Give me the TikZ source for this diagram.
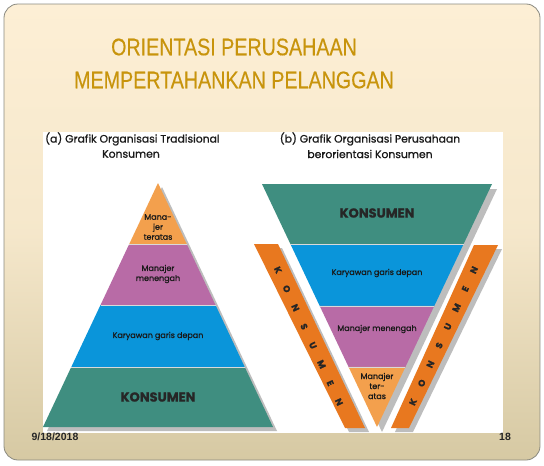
\documentclass[tikz,border=0pt]{standalone}
\usepackage{fontspec}
\setmainfont{Liberation Sans}
\newfontfamily\gothic[FakeBold=0.9]{Poppins}
\newfontfamily\titlefont[FakeBold=0.4]{Liberation Sans}
\usetikzlibrary{calc}
\definecolor{creamtop}{HTML}{FDEFD5}
\definecolor{tanbot}{HTML}{D6C9A3}
\definecolor{framegray}{HTML}{8A8A80}
\definecolor{titlegold}{HTML}{C8940C}
\definecolor{lightorange}{HTML}{F3A04D}
\definecolor{mauve}{HTML}{B86BA6}
\definecolor{skyblue}{HTML}{0A95DA}
\definecolor{teal}{HTML}{3F8E80}
\definecolor{bandorange}{HTML}{E8781F}
\definecolor{shadowgray}{HTML}{BDBDBD}
\tikzset{
  titletext/.style={font=\titlefont\fontsize{24}{24}\selectfont, text=titlegold, inner sep=0pt},
  captext/.style={font=\gothic\fontsize{10.8}{12}\selectfont, text=black!90, inner sep=0pt},
  laytext/.style={font=\gothic\fontsize{8}{10}\selectfont, text=black!90, inner sep=0pt, align=center},
  bigtext/.style={font=\gothic\bfseries\fontsize{13}{14}\selectfont, text=black!85, inner sep=0pt},
  bandletter/.style={font=\gothic\bfseries\fontsize{9}{9}\selectfont, text=black!85, inner sep=0pt},
  foottext/.style={font=\bfseries\fontsize{10.5}{10.5}\selectfont, text=black!85, inner sep=0pt}
}
\begin{document}
\begin{tikzpicture}[x=1pt,y=-1pt]
\useasboundingbox (0,0) rectangle (544,466);
% slide background
\shade[top color=creamtop, bottom color=tanbot, middle color=creamtop!80!tanbot, rounded corners=14pt]
  (4,4) rectangle (540,460);
\draw[framegray, line width=0.8pt, rounded corners=14pt] (4,4) rectangle (540,460);
% title
\node[titletext] (t1) at (234,47) {\scalebox{0.82}[1]{ORIENTASI PERUSAHAAN}};
\node[titletext] (t2) at (234,80) {\scalebox{0.82}[1]{MEMPERTAHANKAN PELANGGAN}};
% white picture area
\fill[white] (43,132) rectangle (503,433);
% captions
\node[captext, anchor=west] (ca1) at (45,139) {(a) Grafik Organisasi Tradisional};
\node[captext] (ca2) at (131,154) {Konsumen};
\node[captext] (cb1) at (370,139) {(b) Grafik Organisasi Perusahaan};
\node[captext] (cb2) at (370,154) {berorientasi Konsumen};
% ---------- left pyramid ----------
\coordinate (LA) at (158,183);
\coordinate (LL) at (43,427);
\coordinate (LR) at (273,427);
\fill[shadowgray] ([shift={(4,4)}]LA) -- ([shift={(4,4)}]LR) -- ([shift={(4,4)}]LL) -- cycle;
\fill[lightorange] (LA) -- ($(LA)!.25!(LR)$) -- ($(LA)!.25!(LL)$) -- cycle;
\fill[mauve] ($(LA)!.25!(LL)$) -- ($(LA)!.25!(LR)$) -- ($(LA)!.5!(LR)$) -- ($(LA)!.5!(LL)$) -- cycle;
\fill[skyblue] ($(LA)!.5!(LL)$) -- ($(LA)!.5!(LR)$) -- ($(LA)!.755!(LR)$) -- ($(LA)!.755!(LL)$) -- cycle;
\fill[teal] ($(LA)!.755!(LL)$) -- ($(LA)!.755!(LR)$) -- (LR) -- (LL) -- cycle;
\draw[white!70!gray, line width=0.4pt] ($(LA)!.25!(LL)$) -- ($(LA)!.25!(LR)$)
  ($(LA)!.5!(LL)$) -- ($(LA)!.5!(LR)$) ($(LA)!.755!(LL)$) -- ($(LA)!.755!(LR)$);
\node[laytext] (l1) at (158,227) {Mana-\\jer\\teratas};
\node[laytext] (l2) at (158,274) {Manajer\\menengah};
\node[laytext] (l3) at (158,336) {Karyawan garis depan};
\node[bigtext] (l4) at (158,397) {KONSUMEN};
% ---------- right inverted pyramid ----------
\coordinate (RL) at (262,184);
\coordinate (RR) at (492,184);
\coordinate (RA) at (377,427);
\fill[shadowgray] ([shift={(5,5)}]RL) -- ([shift={(5,5)}]RR) -- ([shift={(5,5)}]RA) -- cycle;
\fill[teal] (RL) -- (RR) -- ($(RR)!.247!(RA)$) -- ($(RL)!.247!(RA)$) -- cycle;
\fill[skyblue] ($(RL)!.247!(RA)$) -- ($(RR)!.247!(RA)$) -- ($(RR)!.502!(RA)$) -- ($(RL)!.502!(RA)$) -- cycle;
\fill[mauve] ($(RL)!.502!(RA)$) -- ($(RR)!.502!(RA)$) -- ($(RR)!.753!(RA)$) -- ($(RL)!.753!(RA)$) -- cycle;
\fill[lightorange] ($(RL)!.753!(RA)$) -- ($(RR)!.753!(RA)$) -- (RA) -- cycle;
\draw[white!70!gray, line width=0.4pt] ($(RL)!.247!(RA)$) -- ($(RR)!.247!(RA)$)
  ($(RL)!.502!(RA)$) -- ($(RR)!.502!(RA)$) ($(RL)!.753!(RA)$) -- ($(RR)!.753!(RA)$);
\node[bigtext] (r1) at (377,213) {KONSUMEN};
\node[laytext] (r2) at (377,273) {Karyawan garis depan};
\node[laytext] (r3) at (377,329) {Manajer menengah};
\node[laytext] (r4) at (377,386) {Manajer\\ter-\\atas};
% ---------- side bands ----------
\fill[shadowgray] (258,248) -- (282,248) -- (369,432) -- (349,432) -- cycle;
\fill[bandorange] (254,244) -- (278,244) -- (365,428) -- (345,428) -- cycle;
\fill[shadowgray] (502,249) -- (478,249) -- (395,432) -- (413,432) -- cycle;
\fill[bandorange] (498,245) -- (474,245) -- (391,428) -- (409,428) -- cycle;
\foreach \ch [count=\i from 0] in {K,O,N,S,U,M,E,N} {
  \node[bandletter, rotate=-65] (bl\i) at ($(278,270)!\i/7!(339,402)$) {\ch};
  \node[bandletter, rotate=65] (br\i) at ($(413,402)!\i/7!(474,270)$) {\ch};
}
% footer
\node[foottext] (d) at (55,437) {9/18/2018};
\node[foottext] (p) at (505,437) {18};
\end{tikzpicture}
\end{document}
